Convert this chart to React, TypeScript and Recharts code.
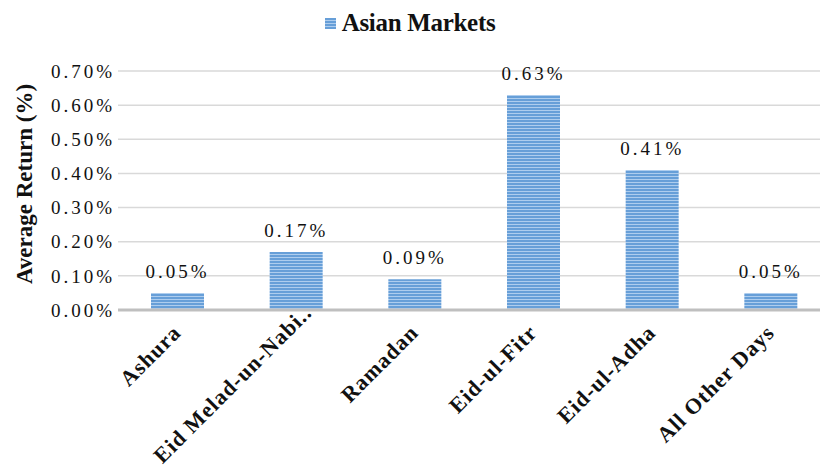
import { Bar, BarChart, CartesianGrid, LabelList, Legend, XAxis, YAxis } from "recharts";

const categories = ["Ashura", "Eid Melad-un-Nabi..", "Ramadan", "Eid-ul-Fitr", "Eid-ul-Adha", "All Other Days"];
const asianMarkets = [0.05, 0.17, 0.09, 0.63, 0.41, 0.05];
const yTicks = [0, 0.1, 0.2, 0.3, 0.4, 0.5, 0.6, 0.7];
const seriesName = "Asian Markets";

const data = categories.map((name, i) => ({ name, value: asianMarkets[i] }));

const SERIF = '"Liberation Serif", "Times New Roman", serif';
const pct = (v: number) => `${v.toFixed(2)}%`;

function CategoryTick({ x, y, payload }: { x?: number; y?: number; payload?: { value: string } }) {
  const label = payload?.value ?? "";
  // truncated labels sit a bit higher, like Excel does it
  const truncated = label.endsWith("..");
  const ax = truncated ? 17 : 5;
  const ay = truncated ? 4 : 24;
  return (
    <g transform={`translate(${x},${y})`}>
      <text
        x={ax}
        y={ay}
        textAnchor="end"
        transform={`rotate(-45 ${ax} ${ay})`}
        style={{ fontFamily: SERIF, fontWeight: 700, fontSize: 22, fill: "#111", letterSpacing: 1 }}
      >
        {label}
      </text>
    </g>
  );
}

function LegendContent() {
  return (
    <div style={{ display: "flex", justifyContent: "center", alignItems: "center", gap: 6 }}>
      <span
        style={{
          display: "inline-block",
          width: 11,
          height: 11,
          background: "repeating-linear-gradient(#679fd8 0 2px, #aecdee 2px 3px)",
        }}
      />
      <span style={{ fontFamily: SERIF, fontWeight: 700, fontSize: 25, color: "#111", letterSpacing: -0.3 }}>
        {seriesName}
      </span>
    </div>
  );
}

export default function App() {
  return (
    <div style={{ position: "absolute", left: 0, top: 0, width: 820, height: 475, overflow: "hidden", background: "#fff" }}>
      <BarChart width={832} height={475} data={data} margin={{ top: 71, right: 2, bottom: 0, left: 0 }}>
        <defs>
          <pattern id="stripes" width="4" height="3" patternUnits="userSpaceOnUse">
            <rect width="4" height="3" fill="#679fd8" />
            <rect y="2" width="4" height="1" fill="#aecdee" />
          </pattern>
        </defs>
        <Legend
          verticalAlign="middle"
          align="center"
          layout="horizontal"
          wrapperStyle={{ top: 9, left: 0, width: 820 }}
          content={<LegendContent />}
        />
        <CartesianGrid vertical={false} stroke="#d9d9d9" strokeWidth={1.5} />
        <XAxis
          dataKey="name"
          interval={0}
          height={165}
          tickSize={0}
          tickMargin={0}
          tickLine={false}
          axisLine={{ stroke: "#bfbfbf", strokeWidth: 3 }}
          tick={<CategoryTick />}
        />
        <YAxis
          width={118}
          domain={[0, 0.7]}
          ticks={yTicks}
          tickFormatter={pct}
          axisLine={false}
          tickLine={false}
          tickSize={0}
          tickMargin={3}
          tick={{ fontFamily: SERIF, fontSize: 19, fill: "#111", letterSpacing: 3 }}
          label={() => (
            <text
              x={32}
              y={184}
              textAnchor="middle"
              transform="rotate(-90 32 184)"
              style={{ fontFamily: SERIF, fontWeight: 700, fontSize: 23, fill: "#111" }}
            >
              Average Return (%)
            </text>
          )}
        />
        <Bar dataKey="value" name={seriesName} fill="url(#stripes)" barSize={53} isAnimationActive={false}>
          <LabelList
            dataKey="value"
            position="top"
            offset={15}
            formatter={(v: any) => pct(Number(v))}
            style={{ fontFamily: SERIF, fontSize: 19, fill: "#111", letterSpacing: 3 }}
          />
        </Bar>
      </BarChart>
    </div>
  );
}
